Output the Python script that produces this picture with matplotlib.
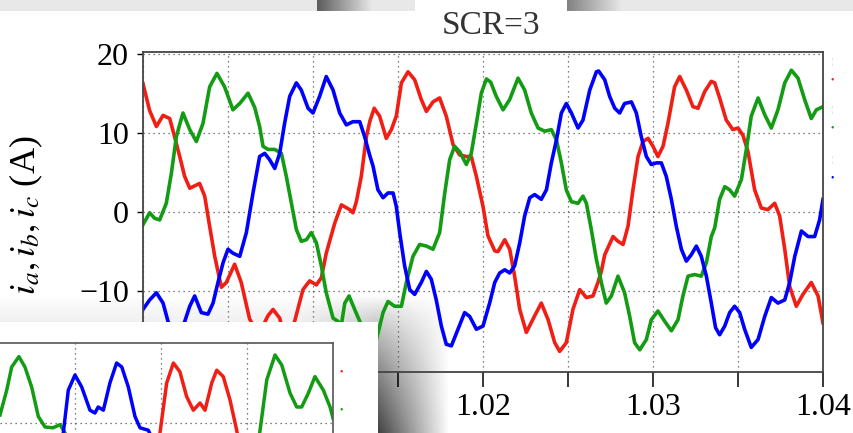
import numpy as np
import matplotlib
matplotlib.use("Agg")
import matplotlib.pyplot as plt
from matplotlib.ticker import MultipleLocator, FuncFormatter

plt.rcParams['font.family'] = ['Liberation Serif', 'DejaVu Serif']
plt.rcParams['mathtext.fontset'] = 'stix'

# main plot: time in ms after t = 1.0 s, phase currents in A
t_a = [0.0, 0.39, 0.79, 1.18, 1.57, 1.86, 2.16, 2.45, 2.75, 3.04, 3.33, 3.63, 3.92, 4.22,
       4.61, 4.9, 5.39, 5.78, 6.27, 6.8, 7.35, 7.65, 8.04, 8.45, 8.92, 9.41, 9.8, 10.2,
       10.49, 10.78, 11.28, 11.67, 12.16, 12.35, 12.55, 12.84, 13.14, 13.35, 13.6, 13.92,
       14.31, 14.61, 14.9, 15.2, 15.59, 15.98, 16.37, 16.67, 17.06, 17.45, 17.84, 18.24,
       18.63, 19.02, 19.31, 19.61, 20.0, 20.29, 20.69, 20.88, 21.28, 21.57, 21.86, 22.16,
       22.55, 23.04, 23.43, 23.83, 24.22, 24.51, 24.9, 25.29, 25.69, 26.08, 26.47, 26.76,
       26.96, 27.16, 27.65, 27.94, 28.24, 28.53, 28.82, 29.12, 29.41, 29.71, 30.0, 30.29,
       30.59, 30.88, 31.27, 31.57, 31.96, 32.35, 32.65, 33.04, 33.43, 33.63, 33.92, 34.31,
       34.7, 35.0, 35.29, 35.59, 35.98, 36.37, 36.76, 37.16, 37.45, 37.75, 38.04, 38.43,
       38.82, 39.31, 39.71, 40.0]
i_a = [16.2, 12.8, 10.8, 12.2, 11.8, 9.5, 7.0, 4.5, 3.0, 3.3, 3.6, 2.0, -1.8, -5.6,
       -9.5, -8.9, -6.6, -8.9, -13.5, -15.5, -13.1, -12.3, -13.4, -16.8, -13.8, -9.8, -8.7, -9.2,
       -8.3, -5.2, -1.4, 0.9, 0.3, -0.1, 1.3, 4.5, 9.5, 11.5, 13.1, 12.1,
       9.3, 10.4, 12.1, 16.3, 17.7, 16.7, 14.2, 12.7, 13.9, 14.4, 12.1, 8.5,
       7.2, 7.0, 7.0, 4.5, 0.7, -3.0, -4.9, -5.0, -3.5, -4.7, -8.1, -12.3,
       -15.2, -13.1, -11.5, -13.6, -16.5, -17.6, -16.5, -12.3, -9.8, -10.8, -10.6, -8.9,
       -7.5, -5.4, -3.1, -3.7, -4.1, -1.8, 2.8, 7.0, 8.9, 9.3, 8.3, 7.0,
       8.3, 11.2, 15.8, 17.1, 15.4, 13.3, 13.1, 15.2, 16.5, 16.3, 14.4, 11.6,
       10.4, 10.6, 9.7, 7.6, 2.8, 0.5, 0.3, 1.1, -0.5, -4.7, -9.4, -11.9,
       -10.4, -8.9, -10.6, -14.0]

t_b = [0.0, 0.39, 0.69, 0.98, 1.37, 1.67, 1.96, 2.35, 2.75, 3.14, 3.53, 3.92, 4.35, 4.8,
       5.29, 5.69, 6.18, 6.57, 6.86, 7.06, 7.35, 7.75, 8.14, 8.43, 8.73, 9.02, 9.31, 9.61,
       9.9, 10.2, 10.49, 10.78, 11.18, 11.47, 11.65, 11.87, 12.12, 12.45, 12.75, 13.1, 13.4,
       13.73, 14.12, 14.41, 14.8, 15.2, 15.49, 15.88, 16.27, 16.67, 17.06, 17.45, 17.75,
       18.04, 18.33, 18.63, 19.02, 19.31, 19.61, 19.9, 20.2, 20.45, 20.78, 21.18, 21.57,
       22.06, 22.45, 22.84, 23.24, 23.63, 24.02, 24.32, 24.61, 24.9, 25.2, 25.59, 25.88,
       26.08, 26.37, 26.67, 26.96, 27.25, 27.55, 27.94, 28.33, 28.63, 28.92, 29.22, 29.61,
       29.9, 30.29, 30.69, 31.08, 31.47, 31.76, 32.06, 32.45, 32.84, 33.14, 33.43, 33.63,
       33.92, 34.22, 34.51, 34.8, 35.2, 35.49, 35.78, 36.18, 36.57, 36.96, 37.35, 37.75,
       38.14, 38.53, 38.92, 39.31, 39.61, 40.0]
i_b = [-1.6, -0.1, -0.8, -1.0, 1.1, 4.9, 9.5, 12.5, 10.4, 8.9, 11.2, 15.8, 17.5, 15.8,
       12.9, 13.7, 15.0, 13.2, 10.8, 8.3, 7.9, 7.9, 7.4, 4.5, 1.1, -2.2, -3.7, -3.5,
       -2.6, -3.9, -6.8, -10.2, -13.4, -13.8, -14.5, -11.5, -10.6, -12.3, -13.8, -16.0, -16.8,
       -16.1, -12.7, -11.3, -11.9, -11.9, -8.9, -5.6, -4.1, -4.3, -4.7, -2.6, 2.4,
       6.6, 8.3, 7.6, 6.0, 7.4, 11.2, 15.0, 16.8, 16.4, 14.6, 12.9, 14.2,
       16.9, 15.4, 12.5, 10.6, 10.2, 10.4, 9.1, 6.2, 2.8, 1.3, 1.1, 2.0,
       1.1, -2.2, -6.0, -8.9, -11.5, -10.6, -8.1, -10.2, -13.2, -16.5, -17.4, -16.1,
       -13.6, -12.5, -13.8, -15.0, -13.6, -10.6, -8.1, -7.9, -8.1, -6.4, -3.1, -2.0,
       1.6, 3.2, 2.8, 2.0, 4.1, 7.9, 12.1, 14.4, 12.3, 10.6, 12.9, 16.3,
       17.9, 16.9, 14.2, 11.8, 12.9, 13.3]

t_c = [0.0, 0.39, 0.79, 1.18, 1.47, 1.9, 2.35, 2.75, 3.04, 3.43, 3.82, 4.12, 4.41, 4.71,
       5.0, 5.29, 5.69, 6.08, 6.47, 6.86, 7.16, 7.45, 7.75, 8.04, 8.33, 8.63, 9.02, 9.31,
       9.71, 10.0, 10.39, 10.78, 11.18, 11.57, 11.96, 12.35, 12.75, 13.04, 13.33, 13.53,
       13.82, 14.12, 14.41, 14.71, 14.9, 15.1, 15.39, 15.69, 15.98, 16.37, 16.67, 16.96,
       17.25, 17.55, 17.84, 18.14, 18.53, 18.92, 19.22, 19.61, 20.0, 20.39, 20.69, 20.98,
       21.28, 21.57, 21.86, 22.16, 22.45, 22.75, 23.04, 23.43, 23.73, 24.02, 24.32, 24.61,
       24.9, 25.2, 25.59, 25.88, 26.28, 26.67, 26.8, 27.16, 27.45, 27.75, 28.04, 28.33,
       28.73, 29.02, 29.31, 29.61, 29.9, 30.2, 30.49, 30.78, 31.08, 31.37, 31.67, 31.96,
       32.25, 32.55, 32.84, 33.14, 33.43, 33.68, 33.92, 34.22, 34.51, 34.8, 35.1, 35.39,
       35.78, 36.18, 36.57, 36.96, 37.35, 37.75, 38.04, 38.34, 38.73, 39.12, 39.51, 39.8, 40.0]
i_c = [-12.3, -11.1, -10.2, -11.5, -13.8, -15.8, -14.5, -11.9, -10.6, -12.7, -12.9, -11.5, -8.9, -6.4,
       -4.7, -5.2, -5.6, -2.6, 2.4, 7.0, 7.4, 6.6, 5.5, 7.4, 11.2, 14.6, 16.3, 15.4,
       13.1, 12.5, 14.6, 17.1, 15.4, 12.5, 11.0, 11.4, 11.4, 9.5, 7.2, 5.8,
       2.8, 1.8, 2.4, 2.4, 0.7, -2.6, -6.8, -9.8, -10.4, -8.9, -7.5, -8.5,
       -11.1, -14.4, -16.7, -16.9, -14.8, -12.7, -13.2, -14.8, -14.4, -11.5, -8.9, -7.7,
       -7.3, -7.7, -6.8, -3.9, -0.5, 1.8, 2.2, 1.6, 2.8, 6.2, 9.1, 12.5,
       13.7, 12.5, 10.6, 11.6, 15.4, 17.7, 17.8, 16.7, 14.6, 13.1, 12.5, 13.7,
       13.9, 12.5, 9.5, 7.0, 6.0, 6.2, 6.2, 4.5, 1.6, -1.8, -4.7, -6.2,
       -5.4, -4.3, -5.6, -8.1, -11.5, -14.6, -15.5, -14.4, -12.7, -11.9, -12.7, -14.8,
       -17.1, -16.1, -13.2, -10.8, -11.5, -11.1, -8.9, -5.6, -2.4, -3.1, -3.1, -1.0, 1.6]

# fragment of a second figure in the lower left (ms, A)
frag_t_g1 = [0.64, 1.03, 1.32, 1.74, 2.09, 2.48, 2.87, 3.26, 3.72, 4.13, 4.42, 4.6]
frag_i_g1 = [11.0, 14.1, 17.0, 18.3, 17.0, 14.5, 10.8, 9.5, 9.4, 9.8, 8.75, 8.0]
frag_t_c = [4.2, 4.32, 4.61, 5.0, 5.39, 5.87, 6.16, 6.35, 6.65, 7.03, 7.42, 7.72, 8.1,
            8.49, 8.78, 9.26, 9.5]
frag_i_c = [7.5, 8.75, 14.1, 16.0, 14.5, 11.6, 11.25, 12.0, 11.6, 15.0, 17.5, 17.0, 14.5,
            10.8, 9.4, 9.1, 8.0]
frag_t_a = [9.85, 9.94, 10.33, 10.72, 11.1, 11.49, 11.88, 12.27, 12.56, 12.95, 13.24, 13.62,
            14.01, 14.4, 14.5]
frag_i_a = [7.5, 8.75, 15.0, 17.5, 16.4, 13.3, 11.6, 12.5, 11.6, 15.0, 16.6, 15.8,
            12.9, 9.1, 8.0]
frag_t_g2 = [15.65, 15.76, 16.15, 16.63, 17.02, 17.5, 17.89, 18.18, 18.57, 18.95, 19.44, 19.83, 20.0]
frag_i_g2 = [7.5, 9.1, 15.4, 18.5, 17.25, 13.75, 12.0, 12.0, 13.75, 15.8, 14.1, 12.0, 10.6]

RED, GREEN, BLUE = '#f01e14', '#139c13', '#0000ff'
W, H = 854, 433


def px_axes(fig, x0, y0, x1, y1, **kw):
    # axes placed by pixel box (top-left origin)
    return fig.add_axes([x0 / W, (H - y1) / H, (x1 - x0) / W, (y1 - y0) / H], **kw)


fig = plt.figure(figsize=(8.54, 4.33), dpi=100)

# greyish background smudges behind the main plot
bg = px_axes(fig, 0, 280, 470, 433, zorder=0)
xx, yy = np.meshgrid(np.linspace(0, 470, 235), np.linspace(280, 433, 77))
fx = np.where(xx >= 378, np.clip((450 - xx) / 72, 0, 1),
              0.3 + 0.7 * np.clip((xx - 300) / 78, 0, 1))
fy = np.clip((yy - 295) / 138, 0, 1) ** 0.8
bg.imshow(1 - 0.75 * fx * fy, cmap='gray', vmin=0, vmax=1, aspect='auto',
          extent=[0, 1, 0, 1], origin='upper')
bg.axis('off')

# top strip
band = px_axes(fig, 0, 0, W, 11, zorder=0)
xb = np.arange(W)
gb = 0.91 - 0.55 * np.clip(1 - (xb - 317) / 55, 0, 1) * (xb >= 317) \
     - 0.4 * np.clip(1 - (xb - 567) / 55, 0, 1) * (xb >= 567)
band.imshow(gb[None, :], cmap='gray', vmin=0, vmax=1, aspect='auto', extent=[0, 1, 0, 1])
band.axis('off')

# main axes
ax = px_axes(fig, 143, 52, 823, 372, zorder=1)
ax.set_facecolor('none')
for t, i, c in [(t_a, i_a, RED), (t_b, i_b, GREEN), (t_c, i_c, BLUE)]:
    ax.plot(1 + np.array(t) / 1000, i, color=c, lw=2.6, solid_joinstyle='round')
ax.set_xlim(1.0, 1.04)
ax.set_ylim(-20.2, 20.2)
ax.xaxis.set_major_locator(MultipleLocator(0.005))
ax.xaxis.set_major_formatter(FuncFormatter(
    lambda v, p: f'{v:.2f}' if abs(round(v / 0.005)) % 2 == 0 else ''))
ax.set_yticks([-10, 0, 10, 20])
ax.set_yticklabels(['\u221210', '0', '10', '20'])
ax.tick_params(axis='x', direction='out', length=11, width=1.1, labelsize=23, pad=4)
ax.tick_params(axis='y', direction='out', length=4, width=1, labelsize=23, pad=6)
ax.grid(True, color='#555555', linestyle=(0, (1, 3)), lw=0.9)
for s in ax.spines.values():
    s.set_color('#444444')
    s.set_linewidth(1.3)
ax.set_ylabel('$i_a, i_b, i_c$ (A)', fontsize=26, va='center')
ax.yaxis.set_label_coords(-0.172, 0.49)

# title box
tb = px_axes(fig, 415, 0, 567, 50, zorder=2)
tb.axis('off')
tb.add_patch(plt.Rectangle((0, 0), 1, 1, color='white', transform=tb.transAxes))
tb.text(0.5, 0.48, 'SCR=3', ha='center', va='center', fontsize=24, color='#333333',
        transform=tb.transAxes)

# legend remnants on the right
for y, c in [(80, RED), (128, GREEN), (178, BLUE)]:
    fig.text(832 / W, 1 - y / H, '\u2022', color=c, fontsize=7, ha='center', va='center')
    fig.text(832 / W, 1 - (y - 18) / H, '\u00a6', color='#bbbbbb', fontsize=6,
             ha='center', va='center')

# white patch with a fragment of another chart in the lower left
wp = px_axes(fig, 0, 322, 378, 433, zorder=3)
wp.set_facecolor('white')
wp.set_xticks([])
wp.set_yticks([])
for s in wp.spines.values():
    s.set_visible(False)

fr = px_axes(fig, 0, 343, 333, 503, zorder=4)
fr.set_facecolor('none')
for t, i, c in [(frag_t_g1, frag_i_g1, GREEN), (frag_t_c, frag_i_c, BLUE),
                (frag_t_a, frag_i_a, RED), (frag_t_g2, frag_i_g2, GREEN)]:
    fr.plot(t, i, color=c, lw=2.5, solid_joinstyle='round')
fr.set_xlim(0.64, 20.0)
fr.set_ylim(0, 20)
fr.set_xticks([5, 10, 15])
fr.set_yticks([10])
fr.tick_params(length=0, labelbottom=False, labelleft=False)
fr.grid(True, color='#555555', linestyle=(0, (1, 3)), lw=0.9)
fr.spines['left'].set_visible(False)
for s in ['top', 'right', 'bottom']:
    fr.spines[s].set_color('#555555')
    fr.spines[s].set_linewidth(1.2)
fig.text(341 / W, 1 - 372 / H, '\u2022', color=RED, fontsize=7, ha='center', va='center')
fig.text(341 / W, 1 - 410 / H, '\u2022', color=GREEN, fontsize=7, ha='center', va='center')

fig.savefig('out.png', dpi=100)
